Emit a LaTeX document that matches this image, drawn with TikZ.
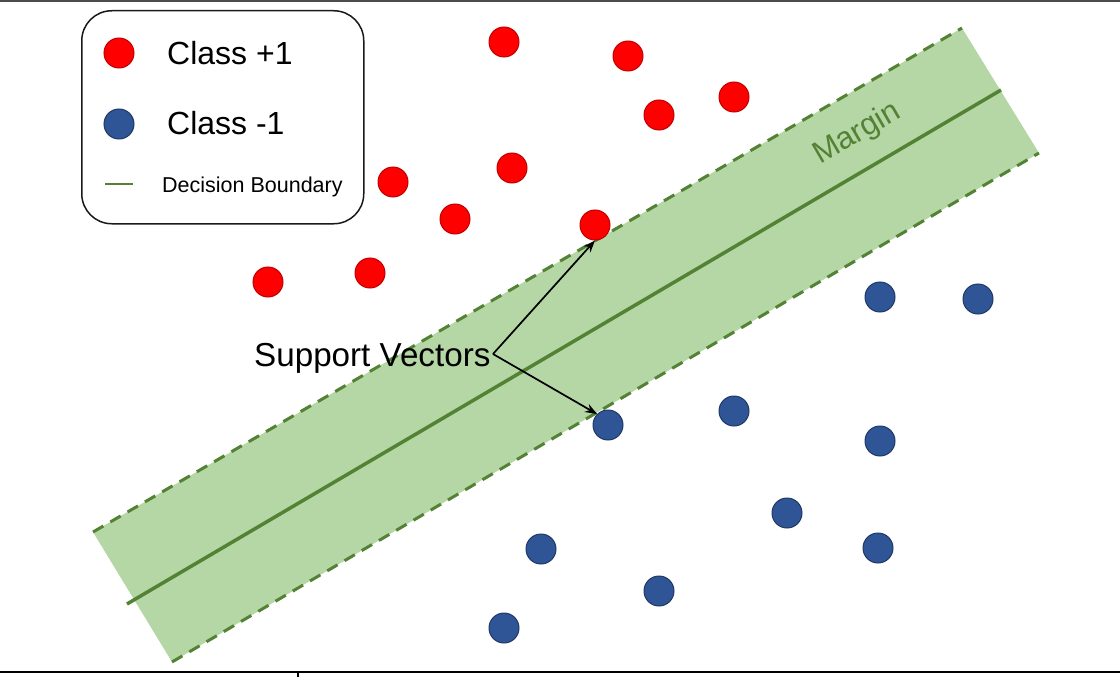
\documentclass[tikz,border=0pt]{standalone}
\usepackage{fontspec}
\setmainfont{Liberation Sans}
\usetikzlibrary{arrows.meta}
\definecolor{redfill}{HTML}{FF0000}
\definecolor{redline}{HTML}{C00000}
\definecolor{bluefill}{HTML}{2F5597}
\definecolor{blueline}{HTML}{1F3864}
\definecolor{bandfill}{HTML}{B5D6A5}
\definecolor{bandline}{HTML}{548235}
\tikzset{
  reddot/.style={circle,fill=redfill,draw=redline,line width=1pt,minimum size=30pt,inner sep=0pt},
  bluedot/.style={circle,fill=bluefill,draw=blueline,line width=1pt,minimum size=30pt,inner sep=0pt},
  bigtext/.style={inner sep=0pt,anchor=base west,font=\fontsize{32}{36}\selectfont},
  edgeline/.style={draw=bandline,line width=3pt,dash pattern=on 12pt off 8pt},
  svarrow/.style={draw=black,line width=1.7pt,-{Stealth[length=12pt,width=9pt]}}
}
\begin{document}
\begin{tikzpicture}[x=1pt,y=-1pt]
\useasboundingbox (0,0) rectangle (1120,677);
% frame lines
\draw[draw=black!70,line width=2pt] (0,1) -- (1120,1);
\draw[draw=black,line width=2pt] (0,672) -- (1120,672);
\draw[draw=black,line width=1.2pt] (298,672) -- (298,677);
% band
\coordinate (tl) at (93,532);
\coordinate (tr) at (962,28);
\coordinate (br) at (1039,153);
\coordinate (bl) at (172,662);
\fill[bandfill] (tl) -- (tr) -- (br) -- (bl) -- cycle;
\draw[edgeline] (tl) -- (tr);
\draw[edgeline] (bl) -- (br);
\coordinate (c1) at (127,604);
\coordinate (c2) at (1001,90);
\draw[draw=bandline,line width=3.5pt] (c1) -- (c2);
\node[inner sep=0pt,anchor=base,rotate=30.1,text=bandline,font=\fontsize{31}{34}\selectfont] (margin) at (861,141) {Margin};
% legend
\node[draw=black!90,line width=1.5pt,rounded corners=30pt,minimum width=282pt,minimum height=213pt,anchor=north west] (legend) at (81,10) {};
\node[reddot] (lr) at (119,53) {};
\node[bluedot] (lb) at (119,124) {};
\coordinate (lg1) at (105,184);
\coordinate (lg2) at (133,184);
\draw[draw=bandline,line width=2pt] (lg1) -- (lg2);
\node[bigtext] (t1) at (167,65) {Class +1};
\node[bigtext] (t2) at (167,135) {Class -1};
\node[inner sep=0pt,anchor=base west,font=\fontsize{21.5}{24}\selectfont] (t3) at (162,192) {Decision Boundary};
% red points
\node[reddot] (r1) at (504,42) {};
\node[reddot] (r2) at (628,56) {};
\node[reddot] (r3) at (659,115) {};
\node[reddot] (r4) at (734,97) {};
\node[reddot] (r5) at (512,168) {};
\node[reddot] (r6) at (393,182) {};
\node[reddot] (r7) at (455,219) {};
\node[reddot] (r8) at (595,225) {};
\node[reddot] (r9) at (268,282) {};
\node[reddot] (r10) at (370,273) {};
% blue points
\node[bluedot] (b1) at (880,297) {};
\node[bluedot] (b2) at (978,299) {};
\node[bluedot] (b3) at (608,425) {};
\node[bluedot] (b4) at (734,411) {};
\node[bluedot] (b5) at (880,441) {};
\node[bluedot] (b6) at (787,513) {};
\node[bluedot] (b7) at (541,549) {};
\node[bluedot] (b8) at (878,548) {};
\node[bluedot] (b9) at (659,591) {};
\node[bluedot] (b10) at (504,628) {};
% support vectors label
\node[inner sep=0pt,anchor=base west,font=\fontsize{33.2}{36}\selectfont] (sv) at (254,366) {Support Vectors};
\coordinate (svtip) at (493,354);
\draw[svarrow] (svtip) -- (r8.south);
\draw[svarrow] (svtip) -- (b3.north west);
\end{tikzpicture}
\end{document}
